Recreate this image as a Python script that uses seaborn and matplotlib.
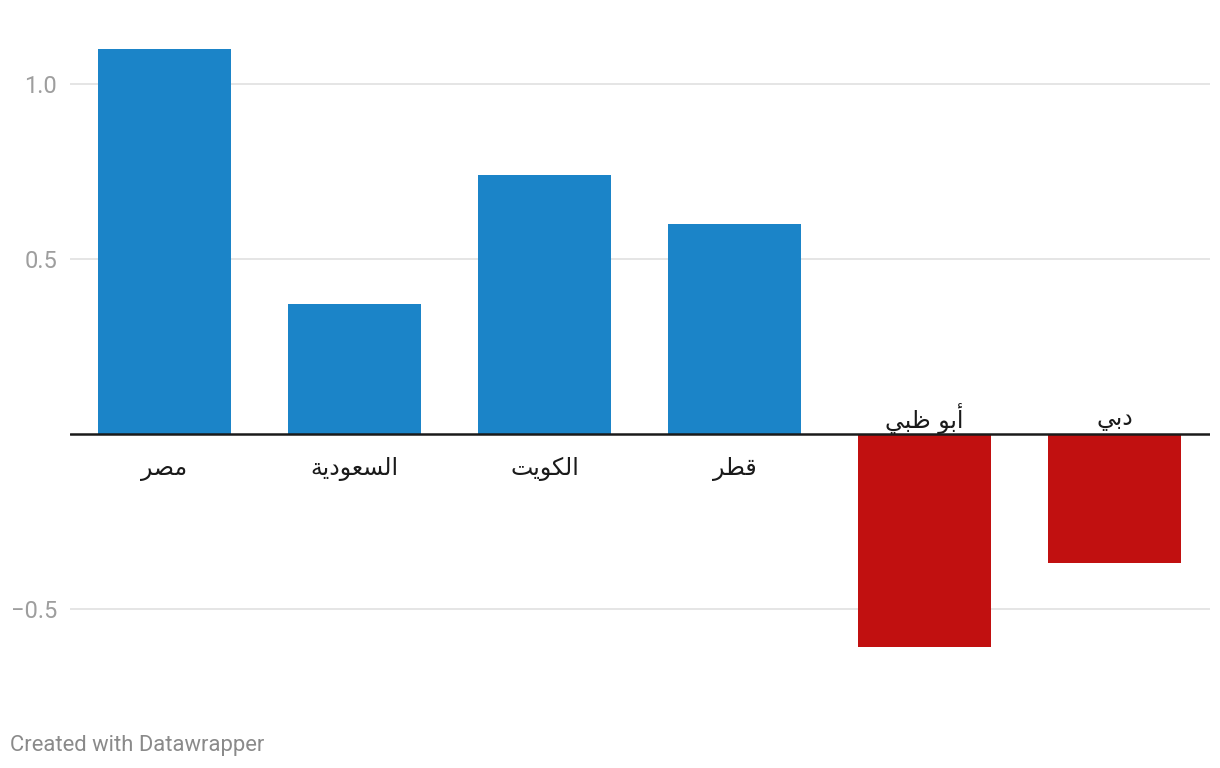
import matplotlib
matplotlib.use("Agg")
import matplotlib.pyplot as plt
import seaborn as sns
import pandas as pd

# ---- data ----
categories = ["مصر", "السعودية", "الكويت", "قطر", "أبو ظبي", "دبي"]
values = [1.10, 0.37, 0.74, 0.60, -0.61, -0.37]
ytick_values = [-0.5, 0.5, 1.0]
ytick_labels = ["−0.5", "0.5", "1.0"]
footer = "Created with Datawrapper"

BLUE = "#1b84c8"
RED = "#c11010"

# ---- minimal Arabic shaping (presentation forms + RTL order) ----
FORMS = {
    "ا": ("\uFE8D", "\uFE8E", None, None),
    "أ": ("\uFE83", "\uFE84", None, None),
    "ب": ("\uFE8F", "\uFE90", "\uFE91", "\uFE92"),
    "ة": ("\uFE93", "\uFE94", None, None),
    "ت": ("\uFE95", "\uFE96", "\uFE97", "\uFE98"),
    "د": ("\uFEA9", "\uFEAA", None, None),
    "ر": ("\uFEAD", "\uFEAE", None, None),
    "س": ("\uFEB1", "\uFEB2", "\uFEB3", "\uFEB4"),
    "ص": ("\uFEB9", "\uFEBA", "\uFEBB", "\uFEBC"),
    "ط": ("\uFEC1", "\uFEC2", "\uFEC3", "\uFEC4"),
    "ظ": ("\uFEC5", "\uFEC6", "\uFEC7", "\uFEC8"),
    "ع": ("\uFEC9", "\uFECA", "\uFECB", "\uFECC"),
    "ق": ("\uFED5", "\uFED6", "\uFED7", "\uFED8"),
    "ك": ("\uFED9", "\uFEDA", "\uFEDB", "\uFEDC"),
    "ل": ("\uFEDD", "\uFEDE", "\uFEDF", "\uFEE0"),
    "م": ("\uFEE1", "\uFEE2", "\uFEE3", "\uFEE4"),
    "و": ("\uFEED", "\uFEEE", None, None),
    "ي": ("\uFEF1", "\uFEF2", "\uFEF3", "\uFEF4"),
}


def shape(text):
    out = []
    n = len(text)
    for i, ch in enumerate(text):
        if ch not in FORMS:
            out.append(ch)
            continue
        iso, fin, ini, med = FORMS[ch]
        prev = text[i - 1] if i > 0 else None
        nxt = text[i + 1] if i < n - 1 else None
        prev_joins = prev in FORMS and FORMS[prev][2] is not None
        next_joins = ini is not None and nxt in FORMS
        if prev_joins and next_joins:
            out.append(med)
        elif prev_joins:
            out.append(fin)
        elif next_joins:
            out.append(ini)
        else:
            out.append(iso)
    return "".join(reversed(out))


sns.set_theme(style="white")
plt.rcParams["font.family"] = ["Roboto", "DejaVu Sans"]

df = pd.DataFrame({"cat": categories, "val": values})
colors = [BLUE if v >= 0 else RED for v in values]

fig = plt.figure(figsize=(12.2, 7.68), dpi=100)
ax = fig.add_axes([69.5 / 1220, 1 - 689.5 / 768, 1140 / 1220, 660 / 768])

for yv in ytick_values:
    ax.axhline(yv, color="#e3e3e3", lw=1.3, zorder=0)

sns.barplot(data=df, x="cat", y="val", hue="cat", palette=colors,
            order=categories, hue_order=categories, width=0.7,
            legend=False, ax=ax, zorder=2, saturation=1,
            linewidth=0, edgecolor="none")

ax.axhline(0, color="#1a1a1a", lw=1.8, zorder=3)
ax.set_xlim(-0.5, 5.5)
ax.set_ylim(-0.73, 1.155)

ax.set_yticks(ytick_values)
ax.set_yticklabels(ytick_labels)
ax.tick_params(axis="y", length=0, pad=9, labelsize=17, labelcolor="#9e9e9e")
ax.set_xticks([])
ax.set_xlabel("")
ax.set_ylabel("")
for s in ax.spines.values():
    s.set_visible(False)

for i, (c, v) in enumerate(zip(categories, values)):
    offset = -25 if v >= 0 else 11
    ax.annotate(shape(c), xy=(i, 0), xytext=(0, offset), textcoords="offset points",
                ha="center", va="center", fontsize=17, color="#1a1a1a",
                family=["DejaVu Sans"], zorder=4)

fig.text(10 / 1220, 1 - 745 / 768, footer, ha="left", va="center",
         fontsize=15.8, color="#8a8a8a")

fig.savefig("out.png", dpi=100)
